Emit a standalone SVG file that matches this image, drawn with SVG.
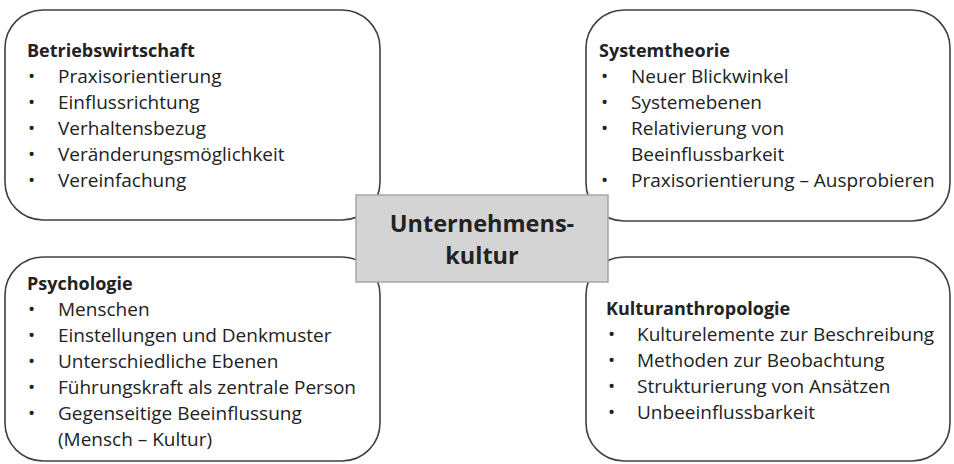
<svg xmlns="http://www.w3.org/2000/svg" width="954" height="464" viewBox="0 0 954 464">
<style>
.box{fill:#fff;stroke:#404040;stroke-width:1.6}
.center{fill:#d4d4d4;stroke:#a6a6a6;stroke-width:1.5}
text{font-family:"Open Sans","Liberation Sans",sans-serif;fill:#222}
.t{font-size:18px;font-weight:bold}
.i{font-size:19px}
.c{font-size:23.5px;font-weight:bold;text-anchor:middle}
</style>
<rect width="954" height="464" fill="#fff"/>
<g id="betriebswirtschaft">
<rect class="box" x="5" y="10" width="375" height="210" rx="38"/>
<text class="t" x="27" y="57">Betriebswirtschaft</text>
<text class="i"><tspan x="28" y="83">•</tspan><tspan x="58" y="83">Praxisorientierung</tspan><tspan x="28" y="109">•</tspan><tspan x="58" y="109">Einflussrichtung</tspan><tspan x="28" y="135">•</tspan><tspan x="58" y="135">Verhaltensbezug</tspan><tspan x="28" y="161">•</tspan><tspan x="58" y="161">Veränderungsmöglichkeit</tspan><tspan x="28" y="187">•</tspan><tspan x="58" y="187">Vereinfachung</tspan></text>
</g>
<g id="systemtheorie">
<rect class="box" x="586" y="10" width="364" height="211" rx="38"/>
<text class="t" x="599" y="57">Systemtheorie</text>
<text class="i"><tspan x="601" y="83">•</tspan><tspan x="631" y="83">Neuer Blickwinkel</tspan><tspan x="601" y="109">•</tspan><tspan x="631" y="109">Systemebenen</tspan><tspan x="601" y="135">•</tspan><tspan x="631" y="135">Relativierung von</tspan><tspan x="631" y="161">Beeinflussbarkeit</tspan><tspan x="601" y="187">•</tspan><tspan x="631" y="187">Praxisorientierung – Ausprobieren</tspan></text>
</g>
<g id="psychologie">
<rect class="box" x="5" y="257" width="375" height="204" rx="38"/>
<text class="t" x="27" y="290">Psychologie</text>
<text class="i"><tspan x="28" y="316">•</tspan><tspan x="58" y="316">Menschen</tspan><tspan x="28" y="342">•</tspan><tspan x="58" y="342">Einstellungen und Denkmuster</tspan><tspan x="28" y="368">•</tspan><tspan x="58" y="368">Unterschiedliche Ebenen</tspan><tspan x="28" y="394">•</tspan><tspan x="58" y="394">Führungskraft als zentrale Person</tspan><tspan x="28" y="420">•</tspan><tspan x="58" y="420">Gegenseitige Beeinflussung</tspan><tspan x="58" y="446">(Mensch – Kultur)</tspan></text>
</g>
<g id="kulturanthropologie">
<rect class="box" x="586" y="257" width="364" height="204" rx="38"/>
<text class="t" x="606" y="315">Kulturanthropologie</text>
<text class="i"><tspan x="608" y="341">•</tspan><tspan x="637" y="341">Kulturelemente zur Beschreibung</tspan><tspan x="608" y="367">•</tspan><tspan x="637" y="367">Methoden zur Beobachtung</tspan><tspan x="608" y="393">•</tspan><tspan x="637" y="393">Strukturierung von Ansätzen</tspan><tspan x="608" y="419">•</tspan><tspan x="637" y="419">Unbeeinflussbarkeit</tspan></text>
</g>
<g id="unternehmenskultur">
<rect class="center" x="356" y="195" width="252" height="87"/>
<text class="c" x="482" y="232">Unternehmens-</text>
<text class="c" x="482" y="264">kultur</text>
</g>
<g id="connectors"/>
</svg>
